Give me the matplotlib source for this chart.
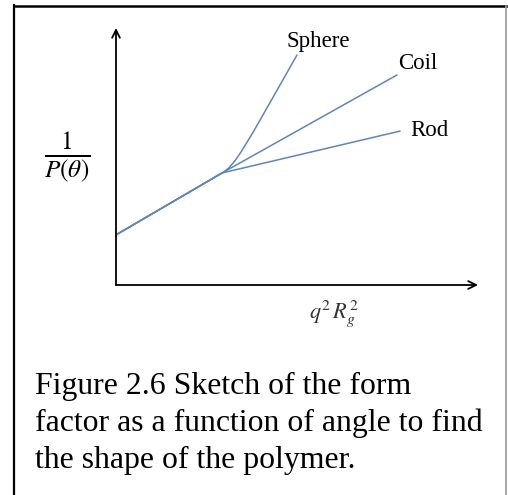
import numpy as np
import matplotlib.pyplot as plt
from matplotlib.lines import Line2D
from matplotlib.path import Path
from matplotlib.patches import PathPatch

plt.rcParams['font.family'] = 'Liberation Serif'
plt.rcParams['mathtext.fontset'] = 'stix'

# sketch values, axis range 0..10 on both axes
x_start, y_start = 0.0, 1.95
x_knot, y_knot = 2.93, 4.36

rod_x = [x_start, x_knot, 7.85]
rod_y = [y_start, y_knot, 5.99]

coil_x = [x_start, x_knot, 7.76]
coil_y = [y_start, y_knot, 8.17]

# sphere: straight to the knot, then a cubic bend up to the end point
sphere_x = [x_start, x_knot, 3.30, 3.55, 5.00]
sphere_y = [y_start, y_knot, 4.65, 5.35, 8.95]

labels = ['Sphere', 'Coil', 'Rod']
label_x = [5.58, 7.79, 8.12]
label_y = [9.49, 8.60, 6.03]

caption = ('Figure 2.6 Sketch of the form\n'
           'factor as a function of angle to find\n'
           'the shape of the polymer.')

W, H = 508, 495
fig = plt.figure(figsize=(W / 100, H / 100), dpi=100)

# frame around the figure (left/top black, right gray, no bottom)
fig.add_artist(Line2D([13.5 / W, 13.5 / W], [0, 1 - 5 / H], color='black', lw=1.6))
fig.add_artist(Line2D([13.5 / W, 506 / W], [1 - 5.5 / H, 1 - 5.5 / H], color='black', lw=1.8))
fig.add_artist(Line2D([506 / W, 506 / W], [0, 1 - 5.5 / H], color='#999999', lw=1.2))

x0, y0 = 116, 285
x1, y1 = 478, 28
ax = fig.add_axes([x0 / W, 1 - y0 / H, (x1 - x0) / W, (y0 - y1) / H])
ax.set_xlim(0, 10)
ax.set_ylim(0, 10)
ax.axis('off')

# axis arrows
arrow = dict(arrowstyle='->', color='black', lw=1.3, mutation_scale=14,
             shrinkA=0, shrinkB=0)
ax.annotate('', xy=(1, 0), xytext=(0, 0), xycoords='axes fraction', arrowprops=arrow)
ax.annotate('', xy=(0, 1), xytext=(0, 0), xycoords='axes fraction', arrowprops=arrow)

line_color = '#5f86b5'
ax.plot(rod_x, rod_y, color=line_color, lw=1.1, solid_capstyle='round')
ax.plot(coil_x, coil_y, color=line_color, lw=1.1, solid_capstyle='round')

codes = [Path.MOVETO, Path.LINETO, Path.CURVE4, Path.CURVE4, Path.CURVE4]
sphere_path = Path(np.column_stack([sphere_x, sphere_y]), codes)
ax.add_patch(PathPatch(sphere_path, facecolor='none', edgecolor=line_color,
                       lw=1.1, capstyle='round'))

for name, tx, ty in zip(labels, label_x, label_y):
    ha = 'center' if name == 'Sphere' else 'left'
    ax.text(tx, ty, name, fontsize=16.5, ha=ha, va='center')

# axis labels
fig.text(67 / W, 1 - 157 / H, r'$\frac{1}{P(\theta)}$', fontsize=26,
         ha='center', va='center')
fig.text(334 / W, 1 - 314 / H, r'$q^2\,R_g^2$', fontsize=16,
         ha='center', va='center', color='#333333')

fig.text(35 / W, 1 - 372 / H, caption, fontsize=22.9, ha='left', va='top',
         linespacing=1.34)

fig.savefig('out.png', dpi=100)
